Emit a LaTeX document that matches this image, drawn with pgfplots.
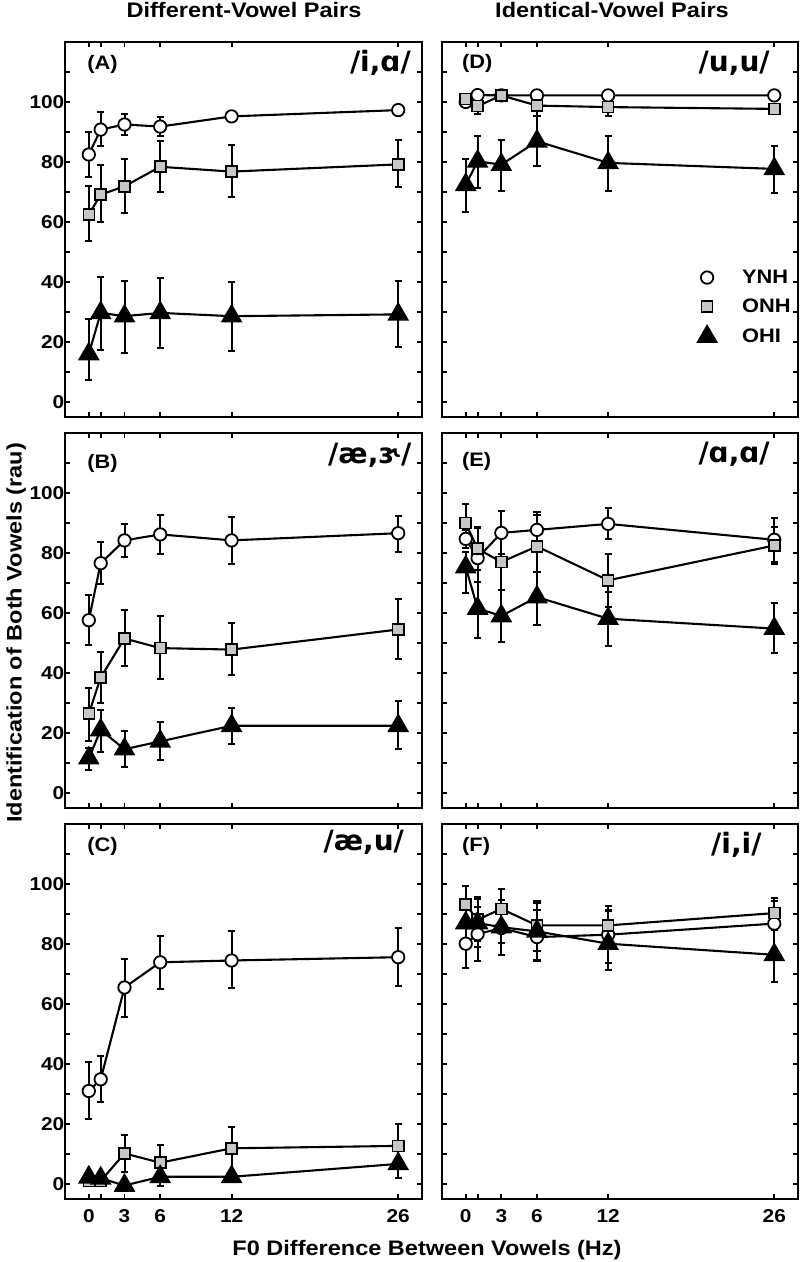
\documentclass[border=0pt]{standalone}
\usepackage{fontspec}
\setmainfont[FakeStretch=1.12]{Liberation Sans}
\newfontfamily\ipafont{DejaVu Sans}
\usepackage{pgfplots}
\pgfplotsset{compat=1.18}
\newcommand\tickfont{\fontsize{18.6}{20}\selectfont\bfseries}
\newcommand\labfont{\fontsize{21}{24}\selectfont\bfseries}
\newcommand\letfont{\fontsize{19.5}{22}\selectfont\bfseries}
\newcommand\ipaf{\ipafont\fontsize{28}{30}\selectfont\bfseries}
\tikzset{
  pl/.style={font=\letfont, anchor=west, inner sep=0pt},
  ip/.style={font=\ipaf, anchor=east, inner sep=0pt},
}
\pgfplotsset{
  panel/.style={
    scale only axis, width=357pt, height=375pt,
    xmin=-2, xmax=28, ymin=-5, ymax=120,
    xtick={0,1,3,6,12,26}, ytick={0,10,...,110},
    xticklabels={}, yticklabels={},
    /pgf/number format/assume math mode=true,
    tick align=inside, major tick length=5pt,
    tick pos=both,
    xticklabel pos=lower, yticklabel pos=left,
    axis line style={line width=2pt},
    tick style={line width=1.8pt, black},
    ticklabel style={font=\tickfont},
    yticklabel style={inner xsep=0.5pt},
    xticklabel style={yshift=-7pt},
  },
  ylab/.style={yticklabels={0,,20,,40,,60,,80,,100,}},
  xlab/.style={xticklabels={0,,3,6,12,26}},
  ynh/.style={black, line width=2.1pt, mark=*, mark size=6.2pt, mark options={fill=white, line width=1.8pt, solid}},
  onh/.style={black, line width=2.1pt, mark=square*, mark size=5.5pt, mark options={fill=black!22, line width=1.6pt, solid}},
  ohi/.style={black, line width=2.1pt, mark=triangle*, mark size=10.5pt, mark options={fill=black, solid}},
  err/.style={/pgfplots/error bars/.cd, y dir=both, y explicit,
    error bar style={line width=2pt, black},
    error mark options={rotate=90, black, line width=2pt, mark size=3.6pt}},
  /pgfplots/table/tab/.style={x index=0, y index=1, y error plus index=2, y error minus index=3, row sep=\\},
}
\begin{document}
\begin{tikzpicture}[x=1pt,y=1pt]
\useasboundingbox (0pt,0pt) rectangle (800pt,1262pt);
% titles and axis labels
\node[font=\labfont, anchor=base] at (244pt,1244.5pt) {Different-Vowel Pairs};
\node[font=\labfont, anchor=base] at (612pt,1244.5pt) {Identical-Vowel Pairs};
\node[font=\labfont, anchor=base] at (427pt,6pt) {F0 Difference Between Vowels (Hz)};
\node[font=\labfont, anchor=base, rotate=90] at (21.5pt,629pt) {Identification of Both Vowels (rau)};

% ---------- Panel A ----------
\begin{axis}[panel, ylab, at={(65pt,1220pt)}, anchor=north west]
\addplot[ynh, err] table[tab] {0 82.5 7.5 7.5\\ 1 90.8 6 5.6\\ 3 92.5 3.4 3.4\\ 6 91.8 3.2 3.2\\ 12 95.2 1 1\\ 26 97.3 1 1\\};
\addplot[onh, err] table[tab] {0 62.5 9.4 9\\ 1 69.1 9.8 9.2\\ 3 71.9 9.2 8.9\\ 6 78.4 8.5 8.3\\ 12 76.8 8.8 8.6\\ 26 79.2 8 7.5\\};
\addplot[ohi, err] table[tab] {0 16 11.8 8.6\\ 1 29.7 11.9 12.3\\ 3 28.6 11.6 12.3\\ 6 29.7 11.5 11.7\\ 12 28.6 11.4 11.5\\ 26 29.2 11.1 10.9\\};
\node[pl] at (rel axis cs:0.062,0.941) {(A)};
\node[ip] at (rel axis cs:0.969,0.944) {/i,ɑ/};
\end{axis}

% ---------- Panel B ----------
\begin{axis}[panel, ylab, at={(65pt,829pt)}, anchor=north west]
\addplot[ynh, err] table[tab] {0 57.6 8.3 8.3\\ 1 76.6 7 6.8\\ 3 84.2 5.5 5.6\\ 6 86.2 6.5 6.5\\ 12 84.2 7.9 8\\ 26 86.6 5.8 6.2\\};
\addplot[onh, err] table[tab] {0 26.4 8.7 9\\ 1 38.5 8.6 8.6\\ 3 51.5 9.4 9.2\\ 6 48.3 10.6 10.4\\ 12 47.8 9 8.6\\ 26 54.5 10.1 10\\};
\addplot[ohi, err] table[tab] {0 11.6 3.4 3.8\\ 1 21 6.7 7.4\\ 3 14.6 6.2 6.1\\ 6 17.2 6.4 6.3\\ 12 22.4 5.8 6.1\\ 26 22.4 8.1 7.8\\};
\node[pl] at (rel axis cs:0.062,0.92) {(B)};
\node[ip] at (rel axis cs:0.971,0.941) {/æ,ɝ/};
\end{axis}

% ---------- Panel C ----------
\begin{axis}[panel, ylab, xlab, at={(65pt,438pt)}, anchor=north west]
\addplot[ynh, err] table[tab] {0 31 9.8 9.4\\ 1 34.9 7.6 7.6\\ 3 65.5 9.5 9.7\\ 6 73.9 8.6 8.9\\ 12 74.5 9.7 9.2\\ 26 75.6 9.7 9.5\\};
\addplot[onh, err] table[tab] {0 1 1 1\\ 1 1 1 1\\ 3 10.2 6.2 6.1\\ 6 7.1 5.9 5.8\\ 12 11.9 7.2 7.5\\ 26 12.7 7.3 7.5\\};
\addplot[ohi, err] table[tab] {0 2.2 1 1\\ 1 1.9 1 1\\ 3 -0.5 1 1\\ 6 2.4 3 3\\ 12 2.4 1.5 1.5\\ 26 6.7 5 4.8\\};
\node[pl] at (rel axis cs:0.062,0.939) {(C)};
\node[ip] at (rel axis cs:0.95,0.952) {/æ,u/};
\end{axis}

% ---------- Panel D ----------
\begin{axis}[panel, at={(442pt,1220pt)}, anchor=north west, width=356pt,
  legend image code/.code={\path[draw=none,fill=none] (-12pt,-8pt) rectangle (12pt,8pt); \draw[#1] plot coordinates {(0pt,0pt)};},
  legend style={draw=none, fill=none, inner sep=0pt, outer sep=0pt, font=\letfont,
    at={(rel axis cs:0.711,0.397)}, anchor=north west, column sep=21pt, row sep=10pt},
  legend cell align=left]
\addplot[ynh, err] table[tab] {0 100 1.5 1.5\\ 1 102.3 1.5 1.5\\ 3 102.2 1 1\\ 6 102.2 1.5 1.5\\ 12 102.2 1 1\\ 26 102.2 1 1\\};
\addlegendentry{YNH}
\addplot[onh, err] table[tab] {0 101 1.5 1.5\\ 1 98.6 2.5 2.5\\ 3 102.2 1 1\\ 6 98.8 3 3.4\\ 12 98.3 2.8 2.9\\ 26 97.7 1 1\\};
\addlegendentry{ONH}
\addplot[ohi, err] table[tab] {0 72.4 8.6 9.1\\ 1 80.2 8.6 8.9\\ 3 79.1 8.1 8.9\\ 6 86.9 10.2 8.1\\ 12 79.7 8.9 9.5\\ 26 77.7 7.7 8\\};
\addlegendentry{OHI}
\node[pl] at (rel axis cs:0.056,0.943) {(D)};
\node[ip] at (rel axis cs:0.921,0.944) {/u,u/};
\end{axis}

% ---------- Panel E ----------
\begin{axis}[panel, at={(442pt,829pt)}, anchor=north west, width=356pt]
\addplot[ynh, err] table[tab] {0 84.7 3 3\\ 1 78.3 10.1 8\\ 3 86.7 7.4 7\\ 6 87.7 5.9 7.4\\ 12 89.7 5.3 5.2\\ 26 84.4 7.2 7.4\\};
\addplot[onh, err] table[tab] {0 90 6.3 6.4\\ 1 81.4 7.2 7.2\\ 3 77 9 9.4\\ 6 82.2 10.5 8.6\\ 12 70.9 8.6 8.9\\ 26 82.5 6.3 6.1\\};
\addplot[ohi, err] table[tab] {0 75.3 5 8.5\\ 1 61.5 8.8 9.7\\ 3 59 8.6 8.7\\ 6 65.3 8.3 9.3\\ 12 58.1 8.9 9.1\\ 26 54.8 8.5 8.3\\};
\node[pl] at (rel axis cs:0.056,0.925) {(E)};
\node[ip] at (rel axis cs:0.921,0.944) {/ɑ,ɑ/};
\end{axis}

% ---------- Panel F ----------
\begin{axis}[panel, xlab, at={(442pt,438pt)}, anchor=north west, width=356pt]
\addplot[ynh, err] table[tab] {0 80.1 7.4 8.1\\ 1 83.3 9 9.1\\ 3 85.3 5 5\\ 6 82.3 9 8.1\\ 12 83.1 8.3 9.5\\ 26 86.8 7.4 8.7\\};
\addplot[onh, err] table[tab] {0 93.1 6.1 6.5\\ 1 88.1 7.6 7\\ 3 91.7 6.7 6.7\\ 6 86.2 8.2 8.7\\ 12 86.2 6.3 7\\ 26 90.3 5 5.5\\};
\addplot[ohi, err] table[tab] {0 87 6 7\\ 1 87 8 8\\ 3 85.6 9 9.2\\ 6 84.2 9.5 9.4\\ 12 80.1 10.8 8.7\\ 26 76.4 8.4 9.2\\};
\node[pl] at (rel axis cs:0.056,0.941) {(F)};
\node[ip] at (rel axis cs:0.898,0.944) {/i,i/};
\end{axis}
\end{tikzpicture}
\end{document}
